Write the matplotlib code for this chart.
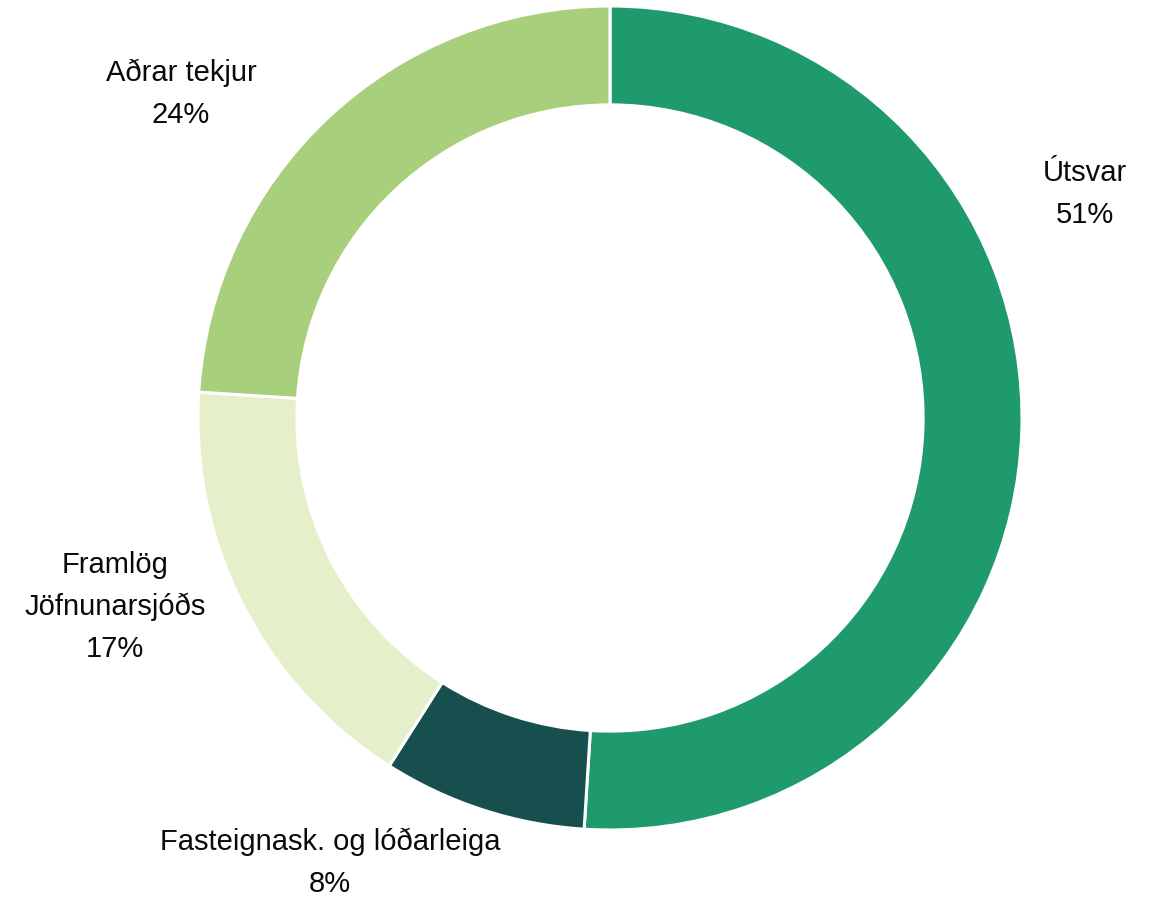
import matplotlib
matplotlib.use("Agg")
import matplotlib.pyplot as plt

# Revenue shares (percent), clockwise from the top
categories = ["Útsvar", "Fasteignask. og lóðarleiga", "Framlög\nJöfnunarsjóðs", "Aðrar tekjur"]
shares = [51, 8, 17, 24]
colors = ["#1f9a6d", "#174f4e", "#e5f0ca", "#a8cf7c"]

# Label anchor points in figure pixels (x from left, y from top)
label_xy = [(1085, 194), (330, 863), (115, 607), (181, 94)]

W, H = 1163, 901
fig = plt.figure(figsize=(W / 100, H / 100), dpi=100)
ax = fig.add_axes([0, 0, 1, 1])

cx, cy, r = 610, H - 418, 412
ax.pie(shares, colors=colors, startangle=90, counterclock=False,
       center=(cx, cy), radius=r, frame=True,
       wedgeprops=dict(width=r * 0.24, edgecolor="white", linewidth=2.2))
ax.set_xlim(0, W)
ax.set_ylim(0, H)
ax.set_aspect("equal")
ax.axis("off")

for name, val, (x, y) in zip(categories, shares, label_xy):
    ax.text(x, H - y, f"{name}\n{val}%", ha="center", va="center",
            fontsize=21, family=["Liberation Sans", "DejaVu Sans"],
            color="#0a0a0a", linespacing=1.64)

fig.savefig("out.png", dpi=100)
